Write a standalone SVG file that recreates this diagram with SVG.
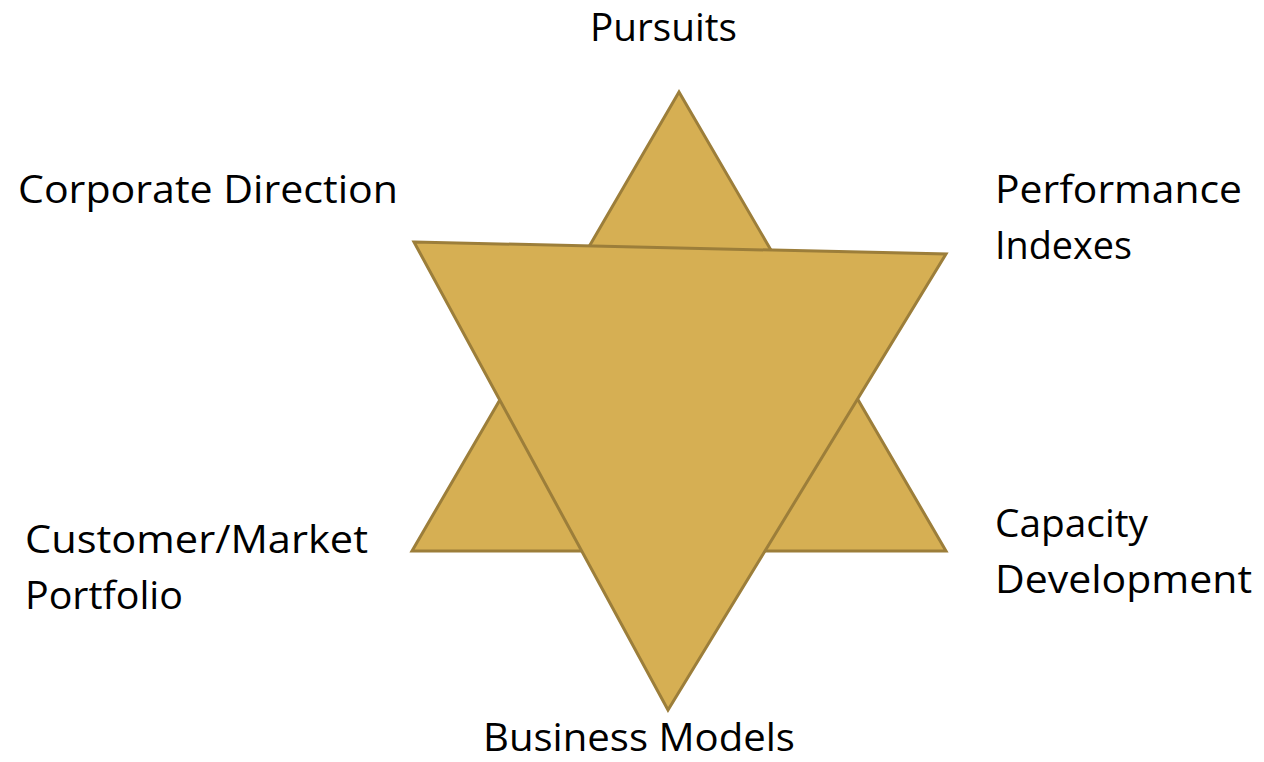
<svg xmlns="http://www.w3.org/2000/svg" width="1264" height="762" viewBox="0 0 1264 762">
<style>
.tri{fill:#D6AF53;stroke:#9C7E3A;stroke-width:3;stroke-linejoin:miter}
.lbl{font-family:"Open Sans","Liberation Sans",sans-serif;font-size:39px;fill:#000}
</style>
<rect width="1264" height="762" fill="#fff"/>
<g id="star">
<polygon id="tri-up" class="tri" points="679,92 412,551 946,551"/>
<polygon id="tri-down" class="tri" points="414,242 946,254 668,710"/>
</g>
<g id="connectors"/>
<g id="labels">
<g id="pursuits"><text class="lbl" x="590" y="41" textLength="147" lengthAdjust="spacingAndGlyphs">Pursuits</text></g>
<g id="corporate-direction"><text class="lbl" x="18" y="203" textLength="380" lengthAdjust="spacingAndGlyphs">Corporate Direction</text></g>
<g id="performance-indexes"><text class="lbl" x="995" y="203" textLength="247" lengthAdjust="spacingAndGlyphs">Performance</text><text class="lbl" x="995" y="259" textLength="137" lengthAdjust="spacingAndGlyphs">Indexes</text></g>
<g id="customer-market"><text class="lbl" x="25" y="553" textLength="343" lengthAdjust="spacingAndGlyphs">Customer/Market</text><text class="lbl" x="25" y="609" textLength="158" lengthAdjust="spacingAndGlyphs">Portfolio</text></g>
<g id="capacity-development"><text class="lbl" x="995" y="537" textLength="153" lengthAdjust="spacingAndGlyphs">Capacity</text><text class="lbl" x="995" y="593" textLength="257" lengthAdjust="spacingAndGlyphs">Development</text></g>
<g id="business-models"><text class="lbl" x="483" y="751" textLength="312" lengthAdjust="spacingAndGlyphs">Business Models</text></g>
</g>
</svg>
